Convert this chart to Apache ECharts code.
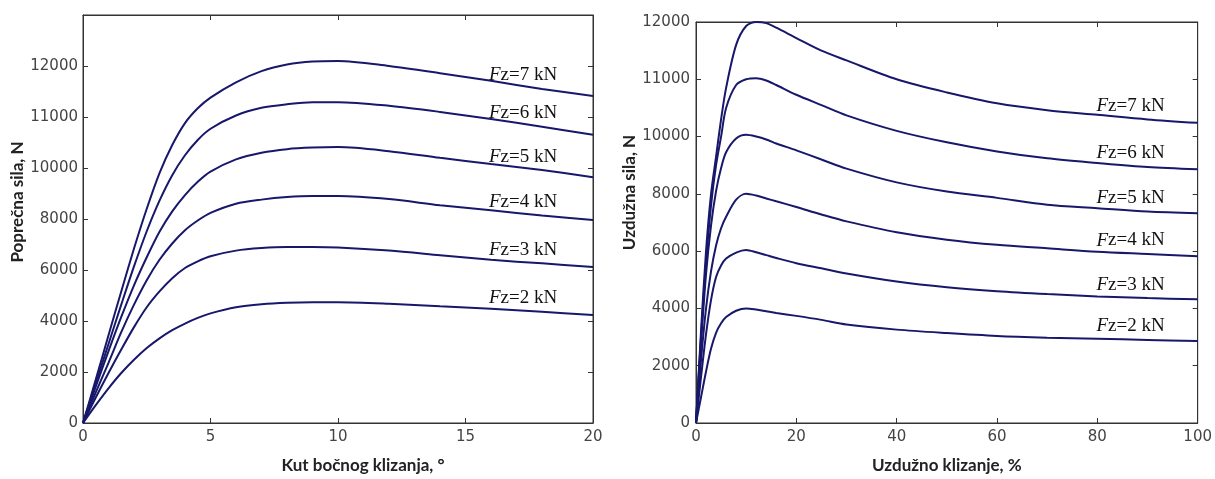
<!DOCTYPE html>
<html>
<head>
<meta charset="utf-8">
<script src="https://cdn.jsdelivr.net/npm/echarts@6/dist/echarts.min.js"></script>
<style>
  html, body { margin: 0; padding: 0; background: #fff; }
  #chart { width: 1215px; height: 479px; }
</style>
</head>
<body>
<div id="chart"></div>
<script>
// tick labels as printed (the scale is not linear above 10000)
const yTickLabels = [0, 2000, 4000, 6000, 8000, 10000, 11000, 12000];
const loads = ['2', '3', '4', '5', '6', '7'];

// lateral force vs slip angle (deg)
const slipAngle = [0, 0.5, 1, 1.5, 2, 2.5, 3, 3.5, 4, 4.5, 5, 6, 7, 8, 9, 10, 12, 14, 16, 18, 20];
const lat2 = [0, 700, 1360, 1960, 2480, 2940, 3320, 3640, 3900, 4120, 4300, 4540, 4660, 4720, 4740, 4740, 4680, 4580, 4480, 4360, 4240];
const lat3 = [0, 1000, 1960, 2880, 3760, 4540, 5160, 5680, 6080, 6340, 6540, 6760, 6860, 6900, 6900, 6880, 6760, 6580, 6400, 6260, 6120];
const lat4 = [0, 1200, 2360, 3560, 4640, 5600, 6400, 7040, 7560, 7940, 8240, 8600, 8760, 8860, 8900, 8900, 8780, 8540, 8340, 8140, 7960];
const lat5 = [0, 1420, 2820, 4160, 5400, 6500, 7500, 8300, 8940, 9460, 9860, 10170, 10300, 10370, 10400, 10410, 10330, 10200, 10080, 9920, 9640];
const lat6 = [0, 1560, 3100, 4640, 6140, 7520, 8720, 9720, 10250, 10550, 10770, 11030, 11180, 11250, 11290, 11290, 11220, 11100, 10960, 10810, 10650];
const lat7 = [0, 1700, 3440, 5160, 6840, 8400, 9800, 10450, 10880, 11170, 11380, 11680, 11900, 12030, 12090, 12100, 12000, 11860, 11710, 11550, 11410];

// longitudinal force vs slip (%)
const slip = [0, 1, 2, 3, 4, 5, 6, 8, 10, 12, 14, 16, 20, 25, 30, 40, 50, 60, 70, 80, 90, 100];
const lon2 = [0, 900, 1800, 2600, 3150, 3480, 3700, 3920, 4000, 3960, 3900, 3840, 3740, 3600, 3440, 3260, 3140, 3040, 2980, 2940, 2900, 2860];
const lon3 = [0, 1600, 3100, 4300, 5100, 5500, 5740, 5950, 6040, 5960, 5860, 5760, 5580, 5400, 5220, 4940, 4740, 4600, 4500, 4420, 4360, 4320];
const lon4 = [0, 2200, 4000, 5300, 6200, 6800, 7200, 7800, 8000, 7940, 7840, 7740, 7540, 7280, 7040, 6660, 6400, 6220, 6100, 5980, 5900, 5820];
const lon5 = [0, 2800, 5200, 6900, 8100, 8900, 9450, 9930, 10030, 10000, 9900, 9760, 9520, 9200, 8880, 8400, 8080, 7860, 7620, 7500, 7380, 7320];
const lon6 = [0, 3000, 5600, 7600, 9000, 10000, 10500, 10900, 11000, 11020, 10980, 10900, 10730, 10550, 10370, 10100, 9800, 9480, 9240, 9080, 8940, 8860];
const lon7 = [0, 3200, 6000, 8000, 9300, 10300, 10850, 11600, 11930, 12000, 11980, 11900, 11720, 11500, 11330, 11000, 10770, 10580, 10460, 10380, 10300, 10240];

const latSeries = [lat2, lat3, lat4, lat5, lat6, lat7];
const lonSeries = [lon2, lon3, lon4, lon5, lon6, lon7];

// newton value -> position in tick steps of the printed axis
function toTick (v) {
  const t = yTickLabels;
  for (let i = 0; i < t.length - 1; i++) {
    if (v <= t[i + 1]) return i + (v - t[i]) / (t[i + 1] - t[i]);
  }
  const last = t.length - 1;
  return last + (v - t[last]) / (t[last] - t[last - 1]);
}

const lineColor = '#17176b';
const axisColor = '#333';
const tickFont = { fontFamily: 'DejaVu Sans', fontSize: 15, color: '#444' };
const nameFont = { fontFamily: 'Lato', fontWeight: 'bold', fontSize: 17, color: '#222' };

function makeAxis (opts) {
  return Object.assign({
    type: 'value',
    axisLine: { show: true, onZero: false, lineStyle: { color: axisColor, width: 1 } },
    axisTick: { show: true, inside: true, length: 5, lineStyle: { color: axisColor } },
    splitLine: { show: false },
    axisLabel: Object.assign({ margin: 7 }, tickFont)
  }, opts)
}

function yLabel (v) {
  return yTickLabels[v] !== undefined ? String(yTickLabels[v]) : ''
}

function buildSeries (xs, list, gridIdx, labelX, labelOffset) {
  return list.map((vals, k) => {
    const data = xs.map((x, i) => {
      const item = { value: [x, toTick(vals[i])] }
      if (x === labelX) {
        item.label = {
          show: true,
          position: 'top',
          distance: 4,
          offset: labelOffset,
          formatter: '{i|F}{n|z=' + loads[k] + ' kN}',
          rich: {
            i: { fontFamily: 'Liberation Serif', fontStyle: 'italic', fontSize: 19, color: '#111' },
            n: { fontFamily: 'Liberation Serif', fontSize: 19, color: '#111' }
          }
        }
      }
      return item
    })
    return {
      name: 'Fz=' + loads[k] + ' kN',
      type: 'line',
      xAxisIndex: gridIdx * 2,
      yAxisIndex: gridIdx * 2,
      data: data,
      smooth: 0.3,
      symbol: 'circle',
      symbolSize: 0,
      showSymbol: true,
      lineStyle: { color: lineColor, width: 2 },
      itemStyle: { color: lineColor },
      emphasis: { disabled: true },
      z: 3
    }
  })
}

const chart = echarts.init(document.getElementById('chart'))
const option = {
  backgroundColor: '#fff',
  animation: false,
  grid: [
    { left: 83, top: 15, width: 510, height: 408, show: true, borderColor: axisColor, borderWidth: 1 },
    { left: 696, top: 22, width: 503, height: 401, show: true, borderColor: axisColor, borderWidth: 1 }
  ],
  xAxis: [
    makeAxis({
      gridIndex: 0, position: 'bottom', min: 0, max: 20, interval: 5,
      name: 'Kut bočnog klizanja, °', nameLocation: 'middle', nameGap: 34,
      nameTextStyle: Object.assign({ padding: [0, 0, 0, 50] }, nameFont)
    }),
    makeAxis({ gridIndex: 0, position: 'top', min: 0, max: 20, interval: 5, axisLabel: { show: false } }),
    makeAxis({
      gridIndex: 1, position: 'bottom', min: 0, max: 100, interval: 20,
      name: 'Uzdužno klizanje, %', nameLocation: 'middle', nameGap: 34,
      nameTextStyle: nameFont
    }),
    makeAxis({ gridIndex: 1, position: 'top', min: 0, max: 100, interval: 20, axisLabel: { show: false } })
  ],
  yAxis: [
    makeAxis({
      gridIndex: 0, position: 'left', min: 0, max: 8, interval: 1,
      axisLabel: Object.assign({ margin: 5, formatter: yLabel }, tickFont),
      name: 'Poprečna sila, N', nameLocation: 'middle', nameGap: 55,
      nameTextStyle: Object.assign({ padding: [0, 0, 0, 34] }, nameFont)
    }),
    makeAxis({ gridIndex: 0, position: 'right', min: 0, max: 8, interval: 1, axisLabel: { show: false } }),
    makeAxis({
      gridIndex: 1, position: 'left', min: 0, max: 7, interval: 1,
      axisLabel: Object.assign({ margin: 6, formatter: yLabel }, tickFont),
      name: 'Uzdužna sila, N', nameLocation: 'middle', nameGap: 54,
      nameTextStyle: Object.assign({ padding: [0, 0, 0, 60] }, nameFont)
    }),
    makeAxis({ gridIndex: 1, position: 'right', min: 0, max: 7, interval: 1, axisLabel: { show: false } })
  ],
  series: [].concat(
    buildSeries(slipAngle, latSeries, 0, 18, [-19, 0]),
    buildSeries(slip, lonSeries, 1, 90, [-17, 0])
  )
}
chart.setOption(option)
</script>
</body>
</html>
